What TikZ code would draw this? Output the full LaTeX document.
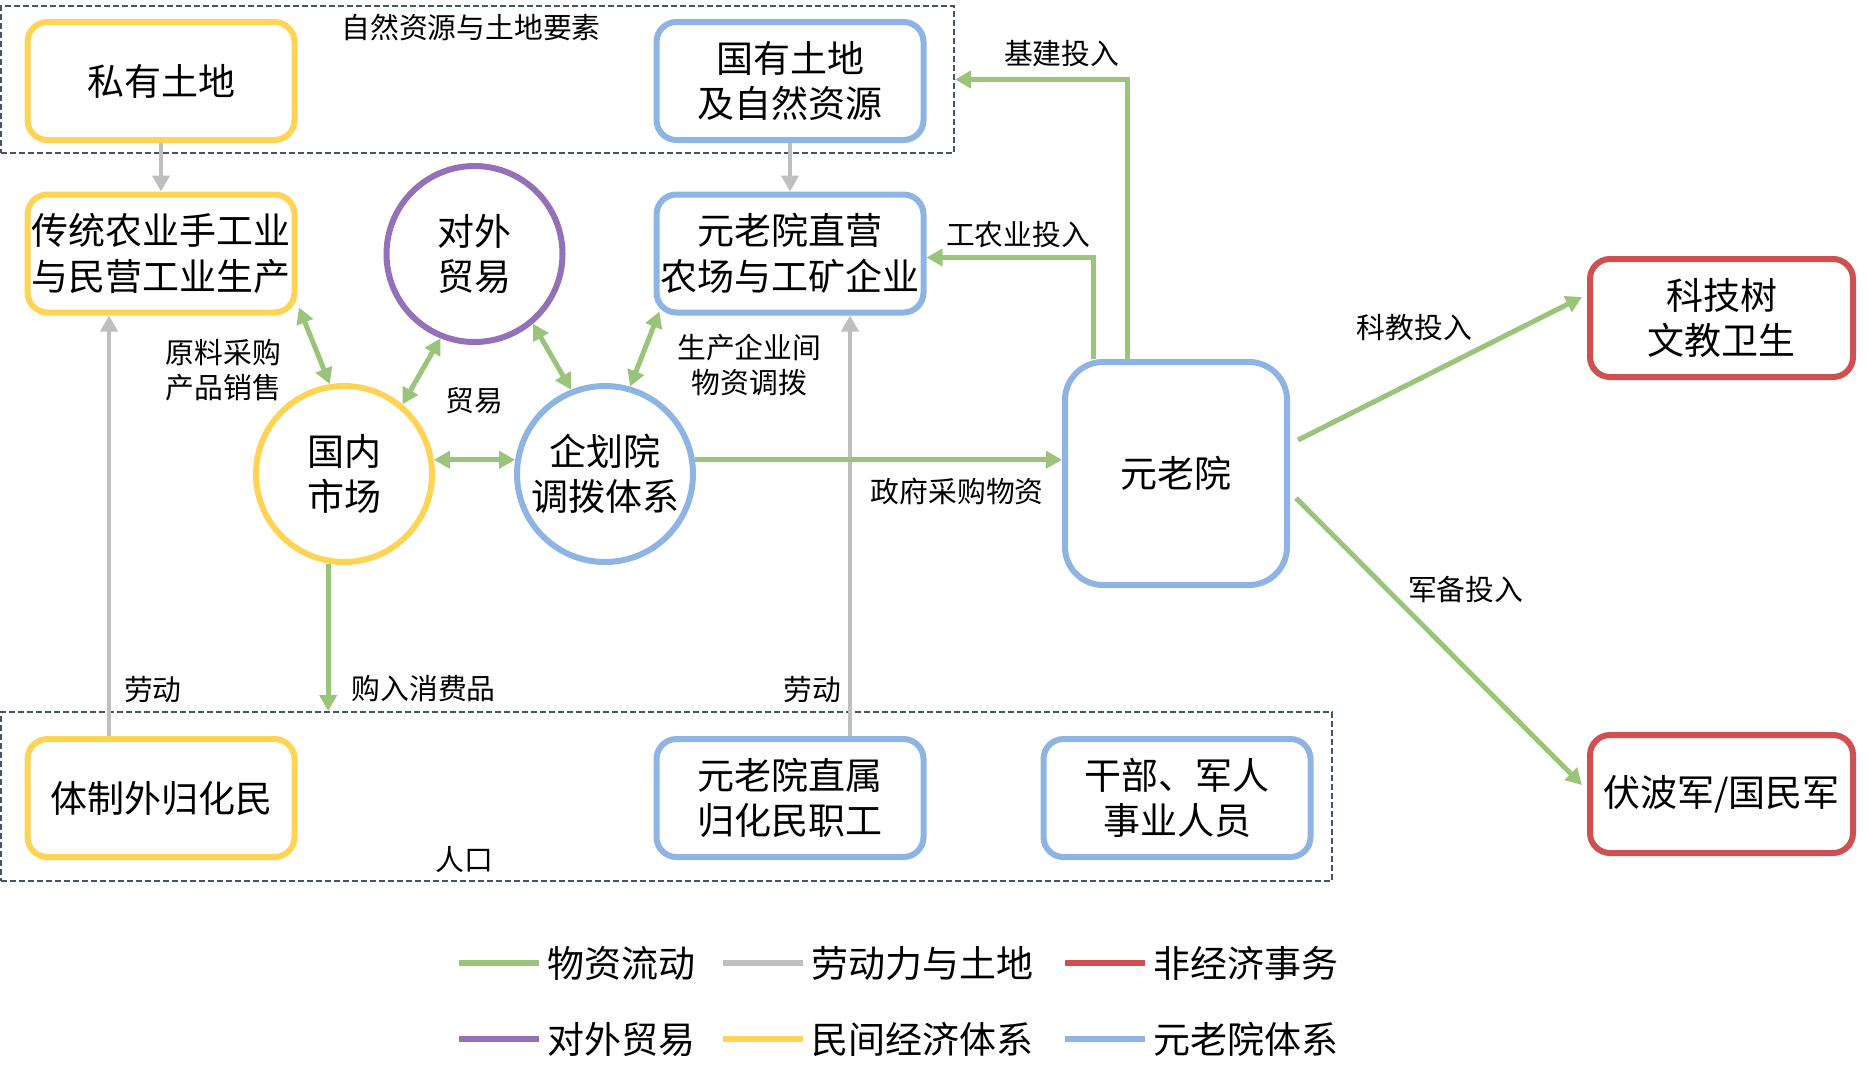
\documentclass[tikz,border=0pt]{standalone}
\usepackage{fontspec}
\setmainfont{Noto Sans CJK SC}
\usetikzlibrary{arrows.meta,positioning}

\definecolor{cgreen}{RGB}{155,196,123}
\definecolor{cgray}{RGB}{191,191,191}
\definecolor{cred}{RGB}{206,80,80}
\definecolor{cpurple}{RGB}{147,112,184}
\definecolor{cyellow}{RGB}{255,212,84}
\definecolor{cblue}{RGB}{141,180,226}
\definecolor{cdash}{RGB}{68,84,106}

\newcommand{\boxtext}{\fontsize{18.5}{22.75}\selectfont}
\newcommand{\lbltext}{\fontsize{14.4}{17.5}\selectfont}

\begin{document}
\begin{tikzpicture}[x=0.5pt,y=-0.5pt]

\tikzstyle{boxY}=[rectangle, rounded corners=10pt, draw=cyellow, line width=3pt, minimum width=133.5pt, minimum height=59pt, inner sep=1pt, align=center, font=\boxtext]
\tikzstyle{boxB}=[boxY, draw=cblue]
\tikzstyle{boxR}=[boxY, draw=cred, minimum width=131.5pt]
\tikzstyle{circY}=[circle, draw=cyellow, line width=3pt, minimum size=88pt, inner sep=0pt, align=center, font=\boxtext]
\tikzstyle{circB}=[circY, draw=cblue]
\tikzstyle{circP}=[circY, draw=cpurple]
\tikzstyle{region}=[rectangle, draw=cdash, line width=1pt, dash pattern=on 3pt off 1.5pt]
\tikzstyle{lbl}=[inner sep=1pt, align=center, font=\lbltext]
\tikzstyle{legend}=[inner sep=2.5pt, font=\boxtext]
\tikzstyle{flow}=[-{Triangle[length=8pt,width=8.5pt]}, draw=cgreen, line width=2.5pt]
\tikzstyle{biflow}=[{Triangle[length=8pt,width=8.5pt]}-{Triangle[length=8pt,width=8.5pt]}, draw=cgreen, line width=2.5pt]
\tikzstyle{labour}=[-{Triangle[length=8pt,width=8.5pt]}, draw=cgray, line width=2pt]

\useasboundingbox (0,0) rectangle (1868,1083);

\node (res) [region, minimum width=476.5pt, minimum height=73.5pt] at (477.5,79.5) {};
\node (pop) [region, minimum width=665.5pt, minimum height=84.5pt] at (666.5,796.5) {};
\node [lbl] at (471,27) {自然资源与土地要素};
\node [lbl] at (464,860) {人口};

\node (land) [boxY] at (161,81) {私有土地};
\node (stateland) [boxB] at (790,81) {国有土地\\及自然资源};
\node (trad) [boxY] at (161,253.5) {传统农业手工业\\与民营工业生产};
\node (farm) [boxB] at (790,253.5) {元老院直营\\农场与工矿企业};
\node (trade) [circP] at (474.5,254) {对外\\贸易};
\node (market) [circY] at (344,474) {国内\\市场};
\node (plan) [circB] at (605,474) {企划院\\调拨体系};
\node (senate) [boxB, minimum width=111pt, minimum height=111.5pt, rounded corners=19pt] at (1176,473.5) {元老院};
\node (tech) [boxR] at (1721.5,318) {科技树\\文教卫生};
\node (navy) [boxR] at (1721.5,794) {伏波军/国民军};
\node (outer) [boxY] at (161,798) {体制外归化民};
\node (staff) [boxB] at (790,798) {元老院直属\\归化民职工};
\node (cadre) [boxB] at (1177,798) {干部、军人\\事业人员};

\draw [labour] (land) -- (trad);
\draw [labour] (stateland) -- (farm);
\draw [labour] ([xshift=-26pt]outer.north) -- node[lbl, pos=0.11, right=5.5pt] {劳动} ([xshift=-26pt]trad.south);
\draw [labour] ([xshift=30pt]staff.north) -- node[lbl, pos=0.11, left=2.5pt] {劳动} ([xshift=30pt]farm.south);

\draw [biflow] ([shift={(0.75pt,4pt)}]trad.south east) -- node[lbl, left=14.5pt, yshift=-12pt] {原料采购\\产品销售} (market.99);
\draw [biflow] (market.50) -- (trade.248);
\draw [biflow] (trade.310) -- (plan.112);
\draw [biflow] (plan.74) -- node[lbl, right=14pt, yshift=-8pt] {生产企业间\\物资调拨} ([shift={(3pt,2pt)}]farm.south west);
\draw [biflow] (market.9) -- (plan.171);
\node [lbl, below=20pt of trade] {贸易};

\draw [flow] (plan.9) -- node[lbl, pos=0.715, below=7pt] {政府采购物资} (plan.9 -| senate.west);
\draw [flow] (market.260) -- node[lbl, pos=0.85, right=9.5pt] {购入消费品} (market.260 |- pop.north);
\draw [flow] ([xshift=-24.5pt]senate.north) |- node[lbl, pos=0.69, above=4pt] {基建投入} (res.east);
\draw [flow] ([xshift=-41.5pt]senate.north) |- node[lbl, pos=0.725, above=2.5pt] {工农业投入} ([yshift=-2pt]farm.east);
\draw [flow] ([shift={(4pt,16.75pt)}]senate.east) -- node[lbl, pos=0.41, above=18pt] {科教投入} ([shift={(-2.5pt,10.5pt)}]tech.west);
\draw [flow] ([shift={(3pt,-12.25pt)}]senate.east) -- node[lbl, pos=0.32, right=8pt] {军备投入} ([shift={(-2.5pt,4.5pt)}]navy.west);

\foreach \x/\y/\c/\t in {459/963/cgreen/物资流动, 723/963/cgray/劳动力与土地, 1065/963/cred/非经济事务, 459/1039/cpurple/对外贸易, 723/1039/cyellow/民间经济体系, 1065/1039/cblue/元老院体系}
  \draw [draw=\c, line width=3pt] (\x,\y) -- ++(80,0) node[right, legend] {\t};

\end{tikzpicture}
\end{document}
